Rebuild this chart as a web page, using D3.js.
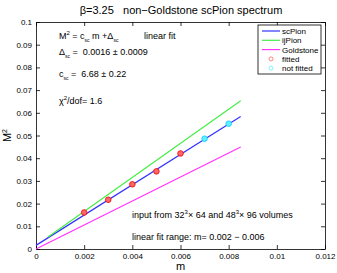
<!DOCTYPE html>
<html lang="en">
  <head>
    <meta charset="UTF-8" />
    <title>non-Goldstone scPion spectrum</title>
    <script src="https://d3js.org/d3.v7.min.js"></script>
    <style>
      html,
      body {
        margin: 0;
        padding: 0;
        background-color: #fff;
        font-family: "Liberation Sans", Arial, sans-serif;
      }
      text {
        white-space: pre;
      }
      .axis text {
        font-size: 8px;
        fill: #000;
      }
      .ann {
        font-size: 9px;
      }
    </style>
  </head>
  <body>
    <svg id="chart"></svg>
    <script>
      // data
      const xTicks = [0, 0.002, 0.004, 0.006, 0.008, 0.01, 0.012];
      const yTicks = [0, 0.01, 0.02, 0.03, 0.04, 0.05, 0.06, 0.07, 0.08, 0.09, 0.1];
      const fittedM = [0.002, 0.003, 0.004, 0.005, 0.006];
      const fittedM2 = [0.0161, 0.0217, 0.0285, 0.0342, 0.0421];
      const notFittedM = [0.007, 0.008];
      const notFittedM2 = [0.0486, 0.0552];
      // fit lines: [m start, M2 start, m end, M2 end]
      const scPionLine = [0, 0.0016, 0.0085, 0.0584];
      const ijPionLine = [0.0005, 0.0053, 0.0085, 0.0653];
      const goldstoneLine = [0, 0, 0.0085, 0.0449];
      const legendNames = ["scPion", "ijPion", "Goldstone", "fitted", "not fitted"];

      const W = 337, H = 273;
      const margin = { top: 22, right: 12, bottom: 24, left: 36 };
      const width = W - margin.left - margin.right;
      const height = H - margin.top - margin.bottom;

      const svg = d3.select("#chart").attr("width", W).attr("height", H);
      const g = svg.append("g").attr("transform", `translate(${margin.left},${margin.top})`);

      const x = d3.scaleLinear().domain([0, 0.012]).range([0, width]);
      const y = d3.scaleLinear().domain([0, 0.1]).range([height, 0]);

      const fmt = (d) => (d === 0 ? "0" : String(+d.toFixed(3)));

      // axes, ticks inward like matlab
      g.append("g")
        .attr("class", "axis")
        .attr("transform", `translate(0,${height})`)
        .call(d3.axisBottom(x).tickValues(xTicks).tickFormat(fmt).tickSizeInner(-4).tickSizeOuter(0).tickPadding(4));
      g.append("g")
        .attr("class", "axis")
        .call(d3.axisLeft(y).tickValues(yTicks).tickFormat(fmt).tickSizeInner(-4).tickSizeOuter(0).tickPadding(4));
      g.append("g")
        .attr("class", "axis")
        .call(d3.axisTop(x).tickValues(xTicks).tickFormat("").tickSizeInner(-4).tickSizeOuter(0));
      g.append("g")
        .attr("class", "axis")
        .attr("transform", `translate(${width},0)`)
        .call(d3.axisRight(y).tickValues(yTicks).tickFormat("").tickSizeInner(-4).tickSizeOuter(0));
      g.selectAll(".axis path, .axis line").attr("stroke", "#000").attr("stroke-width", 0.8);

      // fit lines
      const lines = [
        [scPionLine, "#3333ff"],
        [ijPionLine, "#44ee44"],
        [goldstoneLine, "#ff33ff"],
      ];
      lines.forEach(([l, c]) => {
        g.append("line")
          .attr("x1", x(l[0])).attr("y1", y(l[1]))
          .attr("x2", x(l[2])).attr("y2", y(l[3]))
          .attr("stroke", c).attr("stroke-width", 1.2);
      });

      // points
      g.selectAll(".fit")
        .data(fittedM)
        .enter()
        .append("circle")
        .attr("cx", (d) => x(d))
        .attr("cy", (d, i) => y(fittedM2[i]))
        .attr("r", 2.8)
        .attr("fill", "#ff6666")
        .attr("stroke", "#ee0000")
        .attr("stroke-width", 0.8);
      g.selectAll(".nofit")
        .data(notFittedM)
        .enter()
        .append("circle")
        .attr("cx", (d) => x(d))
        .attr("cy", (d, i) => y(notFittedM2[i]))
        .attr("r", 2.8)
        .attr("fill", "#66eeff")
        .attr("stroke", "#00ccff")
        .attr("stroke-width", 0.8);

      // title and labels
      svg.append("text")
        .attr("x", 181).attr("y", 14)
        .attr("text-anchor", "middle")
        .style("font-size", "11px")
        .text("β=3.25   non−Goldstone scPion spectrum");
      svg.append("text")
        .attr("x", margin.left + x(0.006)).attr("y", 270)
        .attr("text-anchor", "middle")
        .style("font-size", "11px")
        .text("m");
      svg.append("text")
        .attr("transform", `translate(11,${margin.top + height / 2}) rotate(-90)`)
        .attr("text-anchor", "middle")
        .style("font-size", "11px")
        .html('M<tspan dy="-4" style="font-size:7px">2</tspan>');

      // annotations
      const ann = svg.append("g").attr("class", "ann");
      ann.append("text").attr("x", 59).attr("y", 39)
        .html('M<tspan dy="-4" font-size="6">2</tspan><tspan dy="4"> = c</tspan><tspan dy="3" font-size="5">sc</tspan><tspan dy="-3"> m +Δ</tspan><tspan dy="3" font-size="5">sc</tspan>');
      ann.append("text").attr("x", 144).attr("y", 39).text("linear fit");
      ann.append("text").attr("x", 59).attr("y", 55)
        .html('Δ<tspan dy="3" font-size="5">sc</tspan><tspan dy="-3"> =  0.0016 ± 0.0009</tspan>');
      ann.append("text").attr("x", 59).attr("y", 77)
        .html('c<tspan dy="3" font-size="5">sc</tspan><tspan dy="-3"> =  6.68 ± 0.22</tspan>');
      ann.append("text").attr("x", 59).attr("y", 104)
        .html('χ<tspan dy="-4" font-size="6">2</tspan><tspan dy="4">/dof= 1.6</tspan>');
      ann.append("text").attr("x", 132).attr("y", 218)
        .html('input from 32<tspan dy="-4" font-size="6">3</tspan><tspan dy="4">× 64 and 48</tspan><tspan dy="-4" font-size="6">3</tspan><tspan dy="4">× 96 volumes</tspan>');
      ann.append("text").attr("x", 132).attr("y", 240).text("linear fit range: m= 0.002 − 0.006");

      // legend
      const lg = svg.append("g").attr("transform", "translate(258,25)");
      lg.append("rect")
        .attr("width", 63).attr("height", 49)
        .attr("fill", "#fff").attr("stroke", "#000").attr("stroke-width", 0.8);
      const legendColors = ["#3333ff", "#44ee44", "#ff33ff", "#ff6666", "#66eeff"];
      const item = lg.selectAll(".li")
        .data(legendNames)
        .enter()
        .append("g")
        .attr("transform", (d, i) => `translate(0,${6 + i * 9.3})`);
      item.filter((d, i) => i < 3)
        .append("line")
        .attr("x1", 4).attr("x2", 22)
        .attr("stroke", (d, i) => legendColors[i]).attr("stroke-width", 1.2);
      item.filter((d, i) => i >= 3)
        .append("circle")
        .attr("cx", 13).attr("r", 2)
        .attr("fill", "none")
        .attr("stroke", (d, i) => legendColors[i + 3]).attr("stroke-width", 0.8);
      item.append("text")
        .attr("x", 24).attr("y", 3)
        .style("font-size", "8px")
        .text((d) => d);
    </script>
  </body>
</html>
